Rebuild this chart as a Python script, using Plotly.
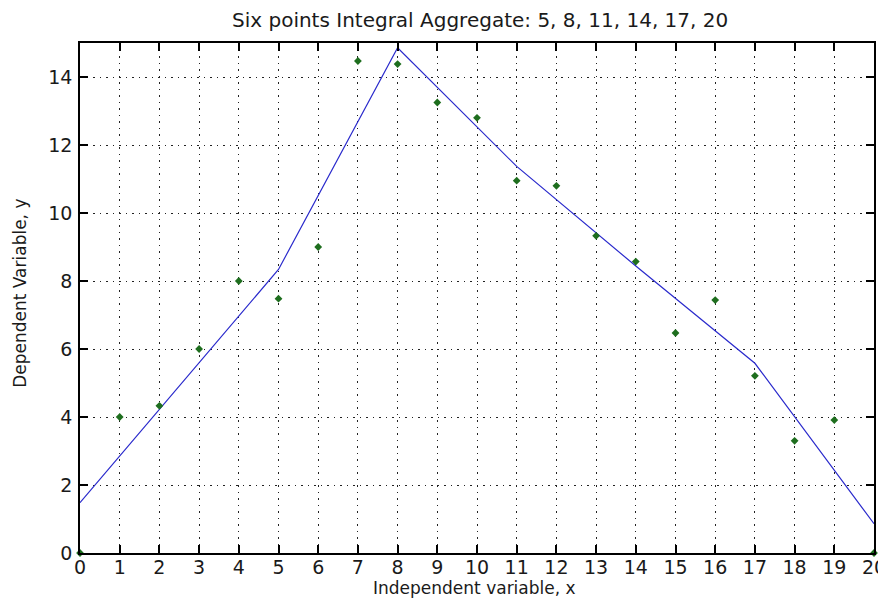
import plotly.graph_objects as go

x_pts = list(range(21))
y_pts = [0, 4.0, 4.33, 6.0, 8.0, 7.48, 9.0, 14.47, 14.38, 13.25, 12.8,
         10.95, 10.8, 9.33, 8.57, 6.47, 7.44, 5.21, 3.3, 3.91, 0]

x_line = [0, 5, 8, 11, 14, 17, 20]
y_line = [1.48, 8.34, 14.86, 11.37, 8.44, 5.58, 0.86]

x_ticks = list(range(0, 21))
y_ticks = list(range(0, 15, 2))

FONT = "DejaVu Sans"
TXT = "#1a1a1a"

fig = go.Figure()
fig.add_trace(go.Scatter(x=x_line, y=y_line, mode="lines",
                         line=dict(color="#2a2acc", width=1.2), showlegend=False))
fig.add_trace(go.Scatter(x=x_pts, y=y_pts, mode="markers",
                         marker=dict(symbol="diamond", size=6, color="#1e6e1e"),
                         showlegend=False, cliponaxis=False))

axis_common = dict(showline=True, linecolor="black", linewidth=1.5, mirror="ticks",
                   ticks="inside", ticklen=8, tickcolor="black", tickwidth=1.5,
                   showgrid=True, gridcolor="#222", griddash="1.5px,5px", gridwidth=1.2,
                   zeroline=False, automargin=False, ticklabeloverflow="allow",
                   tickfont=dict(family=FONT, size=19, color=TXT))

fig.update_xaxes(range=[0, 20], tickvals=x_ticks, ticklabelstandoff=-4, **axis_common)
fig.update_yaxes(range=[0, 15], tickvals=y_ticks, ticklabelstandoff=2, **axis_common)

# page body has an 8px margin, so the figure is shrunk by 8px and margins shifted
fig.update_layout(
    width=878, height=595,
    margin=dict(l=72, r=12, t=35, b=50),
    paper_bgcolor="white", plot_bgcolor="white",
    annotations=[
        dict(text="Six points Integral Aggregate: 5, 8, 11, 14, 17, 20",
             xref="paper", yref="paper", x=0.504, y=1.045,
             xanchor="center", yanchor="middle", showarrow=False,
             font=dict(family=FONT, size=20, color=TXT)),
        dict(text="Independent variable, x",
             xref="paper", yref="paper", x=0.497, y=-0.069,
             xanchor="center", yanchor="middle", showarrow=False,
             font=dict(family=FONT, size=17, color=TXT)),
        dict(text="Dependent Variable, y", textangle=-90,
             xref="paper", yref="paper", x=-0.0756, y=0.51,
             xanchor="center", yanchor="middle", showarrow=False,
             font=dict(family=FONT, size=17, color=TXT)),
    ],
)

fig.write_html("out.html")
